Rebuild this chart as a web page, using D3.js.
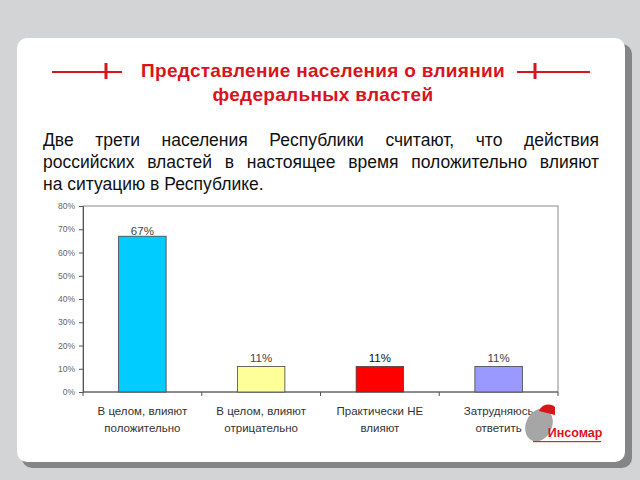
<!DOCTYPE html>
<html>
<head>
<meta charset="utf-8">
<script src="https://cdn.jsdelivr.net/npm/d3@7"></script>
<style>
  body { margin: 0; background: #d3d4d6; }
  #wrap { position: relative; width: 640px; height: 480px; overflow: hidden; }
  svg { position: absolute; left: 0; top: 0; }
  #lead {
    position: absolute; left: 43px; top: 129px; width: 556px;
    font-family: "Liberation Sans", Arial, sans-serif; font-size: 17.5px;
    line-height: 22px; color: #111;
  }
  #lead div { text-align: justify; text-align-last: justify; }
  #lead div:last-child { text-align-last: left; }
</style>
</head>
<body>
<div id="wrap">
  <svg id="chart" width="640" height="480"></svg>
  <div id="lead"></div>
</div>
<script>
// data
const categories = [
  ['В целом, влияют', 'положительно'],
  ['В целом, влияют', 'отрицательно'],
  ['Практически НЕ', 'влияют'],
  ['Затрудняюсь', 'ответить'],
];
const values = [67, 11, 11, 11];
const barColors = ['#00ccff', '#ffff99', '#ff0000', '#9999ff'];
const yTicks = [0, 10, 20, 30, 40, 50, 60, 70, 80];
const titleLines = ['Представление населения о влиянии', 'федеральных властей'];
const leadLines = [
  'Две трети населения Республики считают, что действия',
  'российских властей в настоящее время положительно влияют',
  'на ситуацию в Республике.',
];

d3.select('#lead').selectAll('div')
  .data(leadLines)
  .join('div')
  .text((d) => d);

const svg = d3.select('#chart');
const font = '"Liberation Sans", Arial, sans-serif';

// card with shadow
svg.append('rect')
  .attr('x', 22).attr('y', 44).attr('width', 610).attr('height', 424)
  .attr('rx', 10).attr('fill', '#6f7072').attr('opacity', 0.8);
svg.append('rect')
  .attr('x', 17).attr('y', 38).attr('width', 608).attr('height', 424)
  .attr('rx', 10).attr('fill', '#ffffff');

// title decorations
const red = '#d8141c';
[[52, 122, 106], [517, 590, 535]].forEach(([x1, x2, tx]) => {
  svg.append('line').attr('x1', x1).attr('x2', x2).attr('y1', 72).attr('y2', 72)
    .attr('stroke', red).attr('stroke-width', 2);
  svg.append('rect').attr('x', tx - 1.5).attr('y', 63).attr('width', 3).attr('height', 16)
    .attr('fill', red);
});

svg.append('g').selectAll('text')
  .data(titleLines)
  .join('text')
  .attr('x', 323)
  .attr('y', (d, i) => 77 + i * 24)
  .attr('text-anchor', 'middle')
  .attr('font-family', font)
  .attr('font-size', 19)
  .attr('font-weight', 'bold')
  .attr('letter-spacing', 0.3)
  .attr('fill', red)
  .text((d) => d);

// chart area
const margin = { left: 83, top: 206, right: 558, bottom: 392 };
const x = d3.scaleBand()
  .domain(d3.range(categories.length))
  .range([margin.left, margin.right]);
const y = d3.scaleLinear()
  .domain([0, 80])
  .range([margin.bottom, margin.top]);

const plot = svg.append('g');

plot.append('rect')
  .attr('x', margin.left).attr('y', margin.top)
  .attr('width', margin.right - margin.left).attr('height', margin.bottom - margin.top)
  .attr('fill', 'none').attr('stroke', '#8a8a8a').attr('stroke-width', 1);

const yAxis = d3.axisLeft(y)
  .tickValues(yTicks)
  .tickSize(4)
  .tickPadding(4)
  .tickFormat((d) => d + '%');

plot.append('g')
  .attr('transform', `translate(${margin.left},0)`)
  .call(yAxis)
  .call((g) => g.select('.domain').attr('stroke', '#555'))
  .call((g) => g.selectAll('line').attr('stroke', '#555'))
  .call((g) => g.selectAll('text')
    .attr('font-family', font).attr('font-size', 8.5).attr('fill', '#666'));

// x axis line and ticks at category boundaries
plot.append('line')
  .attr('x1', margin.left).attr('x2', margin.right)
  .attr('y1', margin.bottom).attr('y2', margin.bottom)
  .attr('stroke', '#555');
plot.selectAll('.xtick')
  .data(d3.range(categories.length + 1))
  .join('line')
  .attr('class', 'xtick')
  .attr('x1', (d) => margin.left + d * x.step())
  .attr('x2', (d) => margin.left + d * x.step())
  .attr('y1', margin.bottom).attr('y2', margin.bottom + 4)
  .attr('stroke', '#555');

const barW = x.bandwidth() * 0.4;
plot.selectAll('.bar')
  .data(values)
  .join('rect')
  .attr('class', 'bar')
  .attr('x', (d, i) => x(i) + (x.bandwidth() - barW) / 2)
  .attr('y', (d) => y(d))
  .attr('width', barW)
  .attr('height', (d) => y(0) - y(d))
  .attr('fill', (d, i) => barColors[i])
  .attr('stroke', '#444')
  .attr('stroke-width', 0.8);

plot.selectAll('.val')
  .data(values)
  .join('text')
  .attr('class', 'val')
  .attr('x', (d, i) => x(i) + x.bandwidth() / 2)
  .attr('y', (d, i) => y(d) - (i === 0 ? 1 : 4))
  .attr('text-anchor', 'middle')
  .attr('font-family', font)
  .attr('font-size', 11.5)
  .attr('fill', (d, i) => (i === 2 ? '#111' : '#444'))
  .text((d) => d + '%');

const cat = plot.selectAll('.cat')
  .data(categories)
  .join('text')
  .attr('class', 'cat')
  .attr('text-anchor', 'middle')
  .attr('font-family', font)
  .attr('font-size', 11.5)
  .attr('fill', '#333');
cat.selectAll('tspan')
  .data((d, i) => d.map((t) => ({ t, i })))
  .join('tspan')
  .attr('x', (d) => x(d.i) + x.bandwidth() / 2)
  .attr('y', (d, j) => 415 + j * 17)
  .text((d) => d.t);

// logo
const logo = svg.append('g').attr('transform', 'translate(545,425)');
logo.append('ellipse').attr('rx', 13).attr('ry', 17).attr('cx', -6).attr('cy', 0)
  .attr('transform', 'rotate(25,-6,0)')
  .attr('fill', '#a6a6a6');
logo.append('path').attr('d', 'M-6,-14 A10,10 0 0 1 10,-18 L10,-10 Z').attr('fill', '#d8141c');
logo.append('text').attr('x', 30).attr('y', 12)
  .attr('text-anchor', 'middle')
  .attr('font-family', font).attr('font-size', 12.5).attr('font-weight', 'bold')
  .attr('fill', '#d8141c')
  .text('Инсомар');
logo.append('rect').attr('x', -12).attr('y', 16).attr('width', 68).attr('height', 1.2)
  .attr('fill', '#b33');
</script>
</body>
</html>
